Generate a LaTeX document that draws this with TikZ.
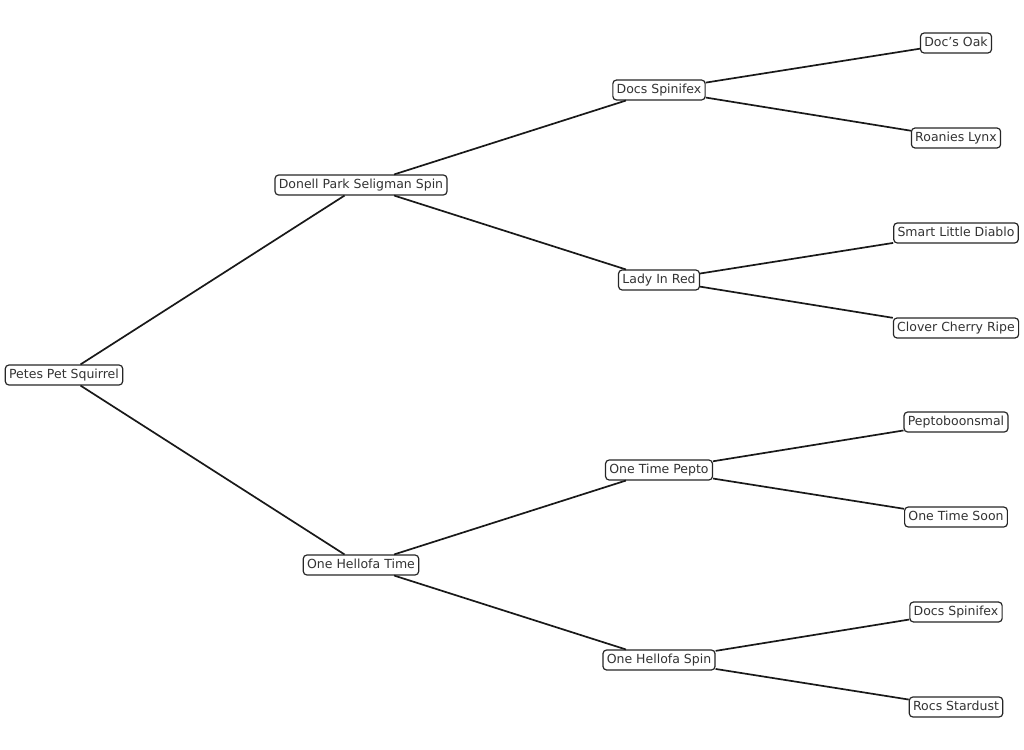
\documentclass[tikz,border=0pt]{standalone}
\usepackage{fontspec}
\setmainfont{DejaVu Sans}
\begin{document}
\begin{tikzpicture}[x=1pt,y=-1pt,
  horse/.style={draw=black!85, line width=1.2pt, rounded corners=3.5pt, fill=white,
    text=black!80, font=\fontsize{12.5}{14}\selectfont, inner xsep=3.8pt, inner ysep=4pt,
    text height=9.3pt, text depth=2.6pt},
  link/.style={line width=1.7pt, black!90}]
\useasboundingbox (0,0) rectangle (1024,749);
\begin{scope}[yshift=-1pt]
\node[horse] (a) at (64,374) {Petes Pet Squirrel};
\node[horse] (b) at (361,184) {Donell Park Seligman Spin};
\node[horse] (c) at (361,564) {One Hellofa Time};
\node[horse] (d) at (659,89) {Docs Spinifex};
\node[horse] (e) at (659,279) {Lady In Red};
\node[horse] (f) at (659,469) {One Time Pepto};
\node[horse] (g) at (659,659) {One Hellofa Spin};
\node[horse] (h) at (956,42) {Doc’s Oak};
\node[horse] (i) at (956,137) {Roanies Lynx};
\node[horse] (j) at (956,232) {Smart Little Diablo};
\node[horse] (k) at (956,327) {Clover Cherry Ripe};
\node[horse] (l) at (956,421) {Peptoboonsmal};
\node[horse] (m) at (956,516) {One Time Soon};
\node[horse] (n) at (956,611) {Docs Spinifex};
\node[horse] (o) at (956,706) {Rocs Stardust};
\end{scope}
\draw[link] (a) -- (b);
\draw[link] (a) -- (c);
\draw[link] (b) -- (d);
\draw[link] (b) -- (e);
\draw[link] (c) -- (f);
\draw[link] (c) -- (g);
\draw[link] (d) -- (h);
\draw[link] (d) -- (i);
\draw[link] (e) -- (j);
\draw[link] (e) -- (k);
\draw[link] (f) -- (l);
\draw[link] (f) -- (m);
\draw[link] (g) -- (n);
\draw[link] (g) -- (o);
\end{tikzpicture}
\end{document}
